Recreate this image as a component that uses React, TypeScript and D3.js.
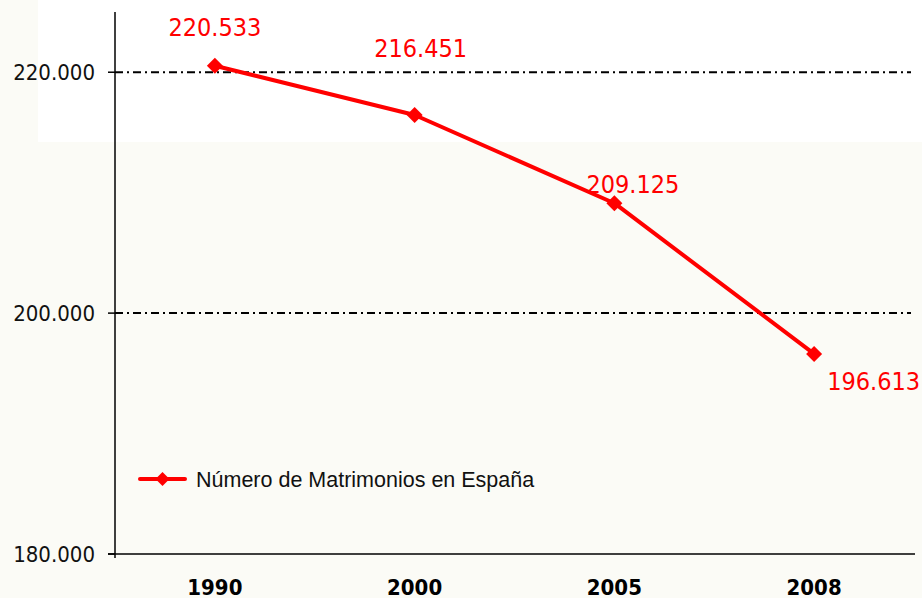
import React from 'react'
import * as d3 from 'd3'

const years = ['1990', '2000', '2005', '2008']
const marriages = [220533, 216451, 209125, 196613]
const yTicks = [180000, 200000, 220000]
const seriesName = 'Número de Matrimonios en España'

const width = 922
const height = 598
const margin = { top: 12, right: 7, bottom: 44, left: 115 }
const plotRight = width - margin.right
const plotBottom = height - margin.bottom
const condensed = '"DejaVu Sans Condensed", "DejaVu Sans", sans-serif'

// label placement relative to the point (dx, dy, anchor)
const labelPos = [
	{ dx: 0, dy: -30, anchor: 'middle' },
	{ dx: 6, dy: -58, anchor: 'middle' },
	{ dx: -28, dy: -10, anchor: 'start' },
	{ dx: 13, dy: 36, anchor: 'start' },
]

const fmt = (v: number) => d3.format(',')(v).replace(/,/g, '.')
const fmtTick = (v: number) => fmt(v / 1000) + '.000'

export default function App() {
	const x = d3
		.scaleBand()
		.domain(years)
		.range([margin.left, plotRight - 1])
	const y = d3
		.scaleLinear()
		.domain([180000, 225000])
		.range([plotBottom, margin.top])

	const cx = (d: string) => (x(d) as number) + x.bandwidth() / 2
	const line = d3
		.line<number>()
		.x((_, i) => cx(years[i]))
		.y(d => y(d))

	const diamond = (px: number, py: number, r: number) =>
		`M${px},${py - r}L${px + r},${py}L${px},${py + r}L${px - r},${py}Z`

	return (
		<svg
			width={width}
			height={height}
			style={{ position: 'absolute', left: 0, top: 0, display: 'block' }}
		>
			<rect width={width} height={height} fill="#fbfbf6" />
			<rect x={38} y={0} width={width - 38} height={142} fill="#ffffff" />

			{yTicks.slice(1).map(t => (
				<line
					key={t}
					x1={margin.left}
					x2={plotRight - 4}
					y1={y(t)}
					y2={y(t)}
					stroke="#000"
					strokeWidth={2}
					strokeDasharray="8,4,2,4"
				/>
			))}

			{/* axes */}
			<line x1={margin.left} x2={margin.left} y1={margin.top} y2={plotBottom + 4} stroke="#000" strokeWidth={1.5} />
			<line x1={margin.left - 7} x2={plotRight} y1={plotBottom} y2={plotBottom} stroke="#000" strokeWidth={1.5} />
			{yTicks.map(t => (
				<g key={t}>
					<line x1={margin.left - 7} x2={margin.left} y1={y(t)} y2={y(t)} stroke="#000" strokeWidth={1.5} />
					<text
						x={margin.left - 20}
						y={y(t) + 8}
						textAnchor="end"
						fontFamily={condensed}
						fontSize={22}
						fill="#111"
					>
						{fmtTick(t)}
					</text>
				</g>
			))}
			{years.map(yr => (
				<text
					key={yr}
					x={cx(yr)}
					y={plotBottom + 41}
					textAnchor="middle"
					fontFamily={condensed}
					fontWeight="bold"
					fontSize={22}
					fill="#000"
				>
					{yr}
				</text>
			))}

			{/* series */}
			<path d={line(marriages) || ''} fill="none" stroke="#ff0000" strokeWidth={4} strokeLinejoin="round" />
			{marriages.map((v, i) => (
				<path key={i} d={diamond(cx(years[i]), y(v), 8)} fill="#ff0000" />
			))}
			{marriages.map((v, i) => (
				<text
					key={i}
					x={cx(years[i]) + labelPos[i].dx}
					y={y(v) + labelPos[i].dy}
					textAnchor={labelPos[i].anchor}
					fontFamily={condensed}
					fontSize={25}
					fill="#ff0000"
				>
					{fmt(v)}
				</text>
			))}

			{/* legend */}
			<g transform="translate(140,479)">
				<line x1={0} x2={45} y1={0} y2={0} stroke="#ff0000" strokeWidth={4} strokeLinecap="round" />
				<path d={diamond(22.5, 0, 7)} fill="#ff0000" />
				<text x={56} y={8} fontFamily="Liberation Sans" fontSize={21.5} fill="#111">
					{seriesName}
				</text>
			</g>
		</svg>
	)
}
